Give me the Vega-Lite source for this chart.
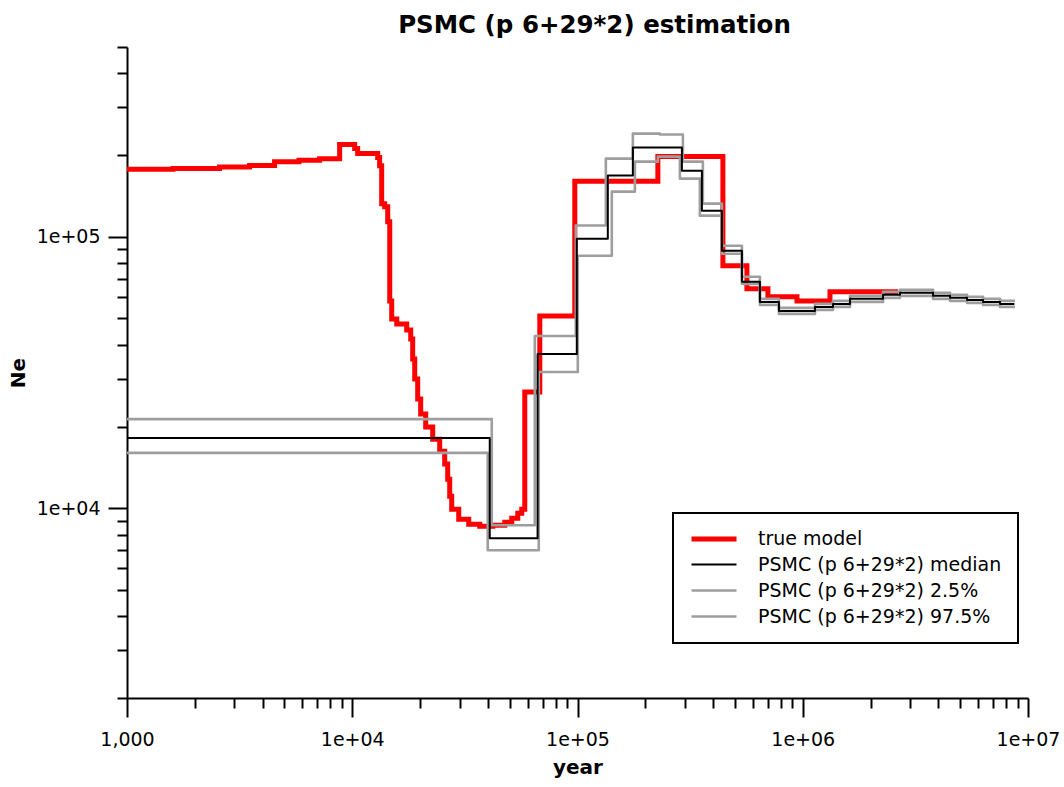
{
  "$schema": "https://vega.github.io/schema/vega-lite/v6.json",
  "width": 901,
  "height": 651,
  "autosize": {"type": "none"},
  "padding": {"left": 127, "top": 47, "right": 36, "bottom": 89},
  "background": "white",
  "title": {"text": "PSMC (p 6+29*2) estimation", "font": "DejaVu Sans", "fontSize": 24.5, "fontWeight": "bold", "color": "black", "anchor": "middle", "dx": 17, "offset": 0},
  "data": {"values": [
    {"series": "true model", "year": 1000, "Ne": 177100},
    {"series": "true model", "year": 1600, "Ne": 178500},
    {"series": "true model", "year": 2576, "Ne": 180800},
    {"series": "true model", "year": 3500, "Ne": 183000},
    {"series": "true model", "year": 4520, "Ne": 189000},
    {"series": "true model", "year": 5800, "Ne": 191500},
    {"series": "true model", "year": 7163, "Ne": 194000},
    {"series": "true model", "year": 8790, "Ne": 218600},
    {"series": "true model", "year": 10250, "Ne": 211200},
    {"series": "true model", "year": 10570, "Ne": 202500},
    {"series": "true model", "year": 12970, "Ne": 195700},
    {"series": "true model", "year": 13230, "Ne": 182800},
    {"series": "true model", "year": 13510, "Ne": 132400},
    {"series": "true model", "year": 13930, "Ne": 129000},
    {"series": "true model", "year": 14370, "Ne": 113600},
    {"series": "true model", "year": 14670, "Ne": 58050},
    {"series": "true model", "year": 14970, "Ne": 49820},
    {"series": "true model", "year": 15760, "Ne": 47750},
    {"series": "true model", "year": 17450, "Ne": 45370},
    {"series": "true model", "year": 18180, "Ne": 42030},
    {"series": "true model", "year": 18550, "Ne": 35460},
    {"series": "true model", "year": 18940, "Ne": 29920},
    {"series": "true model", "year": 19520, "Ne": 25250},
    {"series": "true model", "year": 20130, "Ne": 22230},
    {"series": "true model", "year": 21190, "Ne": 19910},
    {"series": "true model", "year": 22760, "Ne": 17970},
    {"series": "true model", "year": 24450, "Ne": 16230},
    {"series": "true model", "year": 25730, "Ne": 14540},
    {"series": "true model", "year": 26530, "Ne": 12790},
    {"series": "true model", "year": 27080, "Ne": 11080},
    {"series": "true model", "year": 27640, "Ne": 9916},
    {"series": "true model", "year": 29700, "Ne": 9107},
    {"series": "true model", "year": 32890, "Ne": 8730},
    {"series": "true model", "year": 36810, "Ne": 8582},
    {"series": "true model", "year": 42050, "Ne": 8655},
    {"series": "true model", "year": 47540, "Ne": 8878},
    {"series": "true model", "year": 51070, "Ne": 9186},
    {"series": "true model", "year": 54290, "Ne": 9583},
    {"series": "true model", "year": 56560, "Ne": 9916},
    {"series": "true model", "year": 58330, "Ne": 26790},
    {"series": "true model", "year": 68010, "Ne": 51110},
    {"series": "true model", "year": 97270, "Ne": 160000},
    {"series": "true model", "year": 227400, "Ne": 197400},
    {"series": "true model", "year": 442100, "Ne": 78170},
    {"series": "true model", "year": 565100, "Ne": 64280},
    {"series": "true model", "year": 700500, "Ne": 60060},
    {"series": "true model", "year": 942600, "Ne": 58050},
    {"series": "true model", "year": 1321000, "Ne": 62660},
    {"series": "true model", "year": 2648000, "Ne": 62660},

    {"series": "PSMC (p 6+29*2) median", "year": 1000, "Ne": 18150},
    {"series": "PSMC (p 6+29*2) median", "year": 40780, "Ne": 7750},
    {"series": "PSMC (p 6+29*2) median", "year": 66500, "Ne": 37010},
    {"series": "PSMC (p 6+29*2) median", "year": 99290, "Ne": 98310},
    {"series": "PSMC (p 6+29*2) median", "year": 136330, "Ne": 168000},
    {"series": "PSMC (p 6+29*2) median", "year": 176100, "Ne": 213000},
    {"series": "PSMC (p 6+29*2) median", "year": 290700, "Ne": 175200},
    {"series": "PSMC (p 6+29*2) median", "year": 356600, "Ne": 124700},
    {"series": "PSMC (p 6+29*2) median", "year": 437600, "Ne": 88780},
    {"series": "PSMC (p 6+29*2) median", "year": 537000, "Ne": 68230},
    {"series": "PSMC (p 6+29*2) median", "year": 645400, "Ne": 57560},
    {"series": "PSMC (p 6+29*2) median", "year": 783900, "Ne": 53330},
    {"series": "PSMC (p 6+29*2) median", "year": 1133000, "Ne": 55160},
    {"series": "PSMC (p 6+29*2) median", "year": 1362000, "Ne": 56590},
    {"series": "PSMC (p 6+29*2) median", "year": 1621000, "Ne": 59050},
    {"series": "PSMC (p 6+29*2) median", "year": 2272000, "Ne": 61090},
    {"series": "PSMC (p 6+29*2) median", "year": 2703000, "Ne": 62140},
    {"series": "PSMC (p 6+29*2) median", "year": 3788000, "Ne": 60580},
    {"series": "PSMC (p 6+29*2) median", "year": 4508000, "Ne": 59550},
    {"series": "PSMC (p 6+29*2) median", "year": 5363000, "Ne": 58540},
    {"series": "PSMC (p 6+29*2) median", "year": 6317000, "Ne": 57560},
    {"series": "PSMC (p 6+29*2) median", "year": 7516000, "Ne": 56590},
    {"series": "PSMC (p 6+29*2) median", "year": 8700000, "Ne": 56590},

    {"series": "PSMC (p 6+29*2) 2.5%", "year": 1000, "Ne": 16000},
    {"series": "PSMC (p 6+29*2) 2.5%", "year": 39950, "Ne": 7000},
    {"series": "PSMC (p 6+29*2) 2.5%", "year": 67300, "Ne": 31750},
    {"series": "PSMC (p 6+29*2) 2.5%", "year": 100300, "Ne": 85110},
    {"series": "PSMC (p 6+29*2) 2.5%", "year": 142000, "Ne": 146600},
    {"series": "PSMC (p 6+29*2) 2.5%", "year": 179800, "Ne": 189100},
    {"series": "PSMC (p 6+29*2) 2.5%", "year": 227400, "Ne": 197400},
    {"series": "PSMC (p 6+29*2) 2.5%", "year": 284800, "Ne": 163700},
    {"series": "PSMC (p 6+29*2) 2.5%", "year": 349400, "Ne": 119600},
    {"series": "PSMC (p 6+29*2) 2.5%", "year": 437600, "Ne": 86560},
    {"series": "PSMC (p 6+29*2) 2.5%", "year": 537000, "Ne": 67080},
    {"series": "PSMC (p 6+29*2) 2.5%", "year": 645400, "Ne": 56110},
    {"series": "PSMC (p 6+29*2) 2.5%", "year": 783900, "Ne": 51990},
    {"series": "PSMC (p 6+29*2) 2.5%", "year": 1133000, "Ne": 53770},
    {"series": "PSMC (p 6+29*2) 2.5%", "year": 1362000, "Ne": 55160},
    {"series": "PSMC (p 6+29*2) 2.5%", "year": 1621000, "Ne": 57560},
    {"series": "PSMC (p 6+29*2) 2.5%", "year": 2272000, "Ne": 59550},
    {"series": "PSMC (p 6+29*2) 2.5%", "year": 2703000, "Ne": 60580},
    {"series": "PSMC (p 6+29*2) 2.5%", "year": 3788000, "Ne": 59050},
    {"series": "PSMC (p 6+29*2) 2.5%", "year": 4508000, "Ne": 58050},
    {"series": "PSMC (p 6+29*2) 2.5%", "year": 5363000, "Ne": 57080},
    {"series": "PSMC (p 6+29*2) 2.5%", "year": 6317000, "Ne": 56110},
    {"series": "PSMC (p 6+29*2) 2.5%", "year": 7516000, "Ne": 55160},
    {"series": "PSMC (p 6+29*2) 2.5%", "year": 8750000, "Ne": 55160},

    {"series": "PSMC (p 6+29*2) 97.5%", "year": 1000, "Ne": 21300},
    {"series": "PSMC (p 6+29*2) 97.5%", "year": 41630, "Ne": 8655},
    {"series": "PSMC (p 6+29*2) 97.5%", "year": 64620, "Ne": 43120},
    {"series": "PSMC (p 6+29*2) 97.5%", "year": 98270, "Ne": 110000},
    {"series": "PSMC (p 6+29*2) 97.5%", "year": 133600, "Ne": 194000},
    {"series": "PSMC (p 6+29*2) 97.5%", "year": 176100, "Ne": 239900},
    {"series": "PSMC (p 6+29*2) 97.5%", "year": 232100, "Ne": 237900},
    {"series": "PSMC (p 6+29*2) 97.5%", "year": 293700, "Ne": 189100},
    {"series": "PSMC (p 6+29*2) 97.5%", "year": 360300, "Ne": 132400},
    {"series": "PSMC (p 6+29*2) 97.5%", "year": 437600, "Ne": 92640},
    {"series": "PSMC (p 6+29*2) 97.5%", "year": 537000, "Ne": 71200},
    {"series": "PSMC (p 6+29*2) 97.5%", "year": 645400, "Ne": 59050},
    {"series": "PSMC (p 6+29*2) 97.5%", "year": 783900, "Ne": 54700},
    {"series": "PSMC (p 6+29*2) 97.5%", "year": 1133000, "Ne": 56590},
    {"series": "PSMC (p 6+29*2) 97.5%", "year": 1362000, "Ne": 58050},
    {"series": "PSMC (p 6+29*2) 97.5%", "year": 1621000, "Ne": 60580},
    {"series": "PSMC (p 6+29*2) 97.5%", "year": 2272000, "Ne": 62660},
    {"series": "PSMC (p 6+29*2) 97.5%", "year": 2703000, "Ne": 63740},
    {"series": "PSMC (p 6+29*2) 97.5%", "year": 3788000, "Ne": 62140},
    {"series": "PSMC (p 6+29*2) 97.5%", "year": 4508000, "Ne": 61090},
    {"series": "PSMC (p 6+29*2) 97.5%", "year": 5363000, "Ne": 60060},
    {"series": "PSMC (p 6+29*2) 97.5%", "year": 6317000, "Ne": 59050},
    {"series": "PSMC (p 6+29*2) 97.5%", "year": 7516000, "Ne": 58050},
    {"series": "PSMC (p 6+29*2) 97.5%", "year": 8750000, "Ne": 58050}
  ]},
  "encoding": {
    "x": {
      "field": "year", "type": "quantitative",
      "scale": {"type": "log", "domain": [1000, 10000000], "nice": false},
      "axis": {
        "title": "year",
        "labelPadding": 13,
        "titlePadding": 8,
        "values": [1000,2000,3000,4000,5000,6000,7000,8000,9000,10000,20000,30000,40000,50000,60000,70000,80000,90000,100000,200000,300000,400000,500000,600000,700000,800000,900000,1000000,2000000,3000000,4000000,5000000,6000000,7000000,8000000,9000000,10000000],
        "labelExpr": "datum.value == 1000 ? '1,000' : (abs(log(datum.value)/LN10 - round(log(datum.value)/LN10)) < 0.000001 ? '1e+0' + round(log(datum.value)/LN10) : '')",
        "tickSize": {"condition": {"test": "abs(log(datum.value)/LN10 - round(log(datum.value)/LN10)) < 0.000001", "value": 19}, "value": 10}
      }
    },
    "y": {
      "field": "Ne", "type": "quantitative",
      "scale": {"type": "log", "domain": [2000, 500000], "nice": false},
      "axis": {
        "title": "Ne",
        "titlePadding": 8,
        "values": [2000,3000,4000,5000,6000,7000,8000,9000,10000,20000,30000,40000,50000,60000,70000,80000,90000,100000,200000,300000,400000,500000],
        "labelExpr": "abs(log(datum.value)/LN10 - round(log(datum.value)/LN10)) < 0.000001 ? '1e+0' + round(log(datum.value)/LN10) : ''",
        "tickSize": {"condition": {"test": "abs(log(datum.value)/LN10 - round(log(datum.value)/LN10)) < 0.000001", "value": 19}, "value": 10}
      }
    },
    "color": {
      "field": "series", "type": "nominal",
      "scale": {"domain": ["true model", "PSMC (p 6+29*2) median", "PSMC (p 6+29*2) 2.5%", "PSMC (p 6+29*2) 97.5%"], "range": ["#ff0000", "#000000", "#9e9e9e", "#9e9e9e"]},
      "legend": {"title": null, "orient": "none", "legendX": 546, "legendY": 466, "encoding": {"legend": {"strokeWidth": {"value": 2}}}}
    },
    "strokeWidth": {
      "field": "series", "type": "nominal",
      "scale": {"type": "ordinal", "domain": ["true model", "PSMC (p 6+29*2) median", "PSMC (p 6+29*2) 2.5%", "PSMC (p 6+29*2) 97.5%"], "range": [5, 2, 2.6, 2.6]},
      "legend": {"title": null, "orient": "none", "legendX": 546, "legendY": 466, "encoding": {"legend": {"strokeWidth": {"value": 2}}}}
    }
  },
  "layer": [
    {"transform": [{"filter": {"field": "series", "equal": "true model"}}], "mark": {"type": "line", "interpolate": "step-after", "strokeJoin": "miter", "strokeCap": "butt"}},
    {"transform": [{"filter": {"field": "series", "equal": "PSMC (p 6+29*2) 2.5%"}}], "mark": {"type": "line", "interpolate": "step-after", "strokeJoin": "round"}},
    {"transform": [{"filter": {"field": "series", "equal": "PSMC (p 6+29*2) 97.5%"}}], "mark": {"type": "line", "interpolate": "step-after", "strokeJoin": "round"}},
    {"transform": [{"filter": {"field": "series", "equal": "PSMC (p 6+29*2) median"}}], "mark": {"type": "line", "interpolate": "step-after", "strokeJoin": "round"}}
  ],
  "config": {
    "view": {"stroke": null},
    "axis": {
      "grid": false,
      "domainColor": "black", "domainWidth": 2,
      "tickColor": "black", "tickWidth": 2,
      "labelFont": "DejaVu Sans", "labelFontSize": 19, "labelColor": "black",
      "labelPadding": 8, "labelOverlap": false, "labelBound": false, "labelFlush": false,
      "titleFont": "DejaVu Sans", "titleFontSize": 20, "titleFontWeight": "bold", "titleColor": "black"
    },
    "legend": {
      "symbolType": "M-1,0H5",
      "symbolSize": 225,
      "labelFont": "DejaVu Sans", "labelFontSize": 19, "labelColor": "black",
      "labelOffset": 49,
      "padding": 16,
      "rowPadding": 6,
      "strokeColor": "black",
      "fillColor": "white",
      "labelLimit": 400
    }
  }
}
